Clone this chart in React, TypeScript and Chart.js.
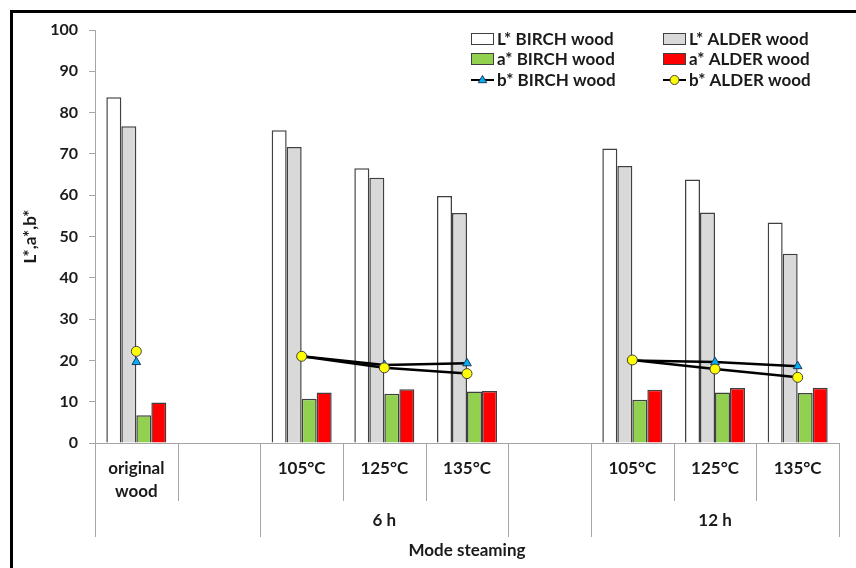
import React, { useEffect, useRef } from "react";
import { Chart, registerables } from "chart.js";

Chart.register(...registerables);

// ---- data ----
const categories: (string | string[])[] = [
  ["original", "wood"], "", "105°C", "125°C", "135°C", "", "105°C", "125°C", "135°C",
];
const groupLabels = ["6 h", "12 h"];
const groupStart = [2, 6];
const groupEnd = [4, 8];
const xTitle = "Mode steaming";
const yTitle = "L*,a*,b*";

const lBirch = [83.7, null, 75.7, 66.5, 59.8, null, 71.3, 63.8, 53.4];
const lAlder = [76.7, null, 71.7, 64.2, 55.7, null, 67.1, 55.8, 45.8];
const aBirch = [6.7, null, 10.7, 11.9, 12.5, null, 10.5, 12.2, 12.1];
const aAlder = [9.8, null, 12.2, 13.0, 12.6, null, 12.9, 13.3, 13.4];
const bBirch = [19.6, null, 21.0, 18.9, 19.3, null, 20.0, 19.6, 18.6];
const bAlder = [22.2, null, 21.0, 18.2, 16.8, null, 20.1, 17.9, 15.9];

const yMin = 0;
const yMax = 100;
const yStep = 10;

const FONT = "Lato";
const TEXT = "#1a1a1a";
const AXIS = "#a6a6a6";
const EDGE = "#404040";

const legendItems = [
  { text: "L* BIRCH wood", kind: "bar", fill: "#ffffff" },
  { text: "L* ALDER wood", kind: "bar", fill: "#d9d9d9" },
  { text: "a* BIRCH wood", kind: "bar", fill: "#92d050" },
  { text: "a* ALDER wood", kind: "bar", fill: "#ff0000" },
  { text: "b* BIRCH wood", kind: "tri", fill: "#00b0f0" },
  { text: "b* ALDER wood", kind: "circ", fill: "#ffff00" },
];

function drawTri(ctx: CanvasRenderingContext2D, x: number, y: number, r: number, fill: string) {
  ctx.beginPath();
  ctx.moveTo(x, y - r);
  ctx.lineTo(x + r * 0.95, y + r * 0.6);
  ctx.lineTo(x - r * 0.95, y + r * 0.6);
  ctx.closePath();
  ctx.fillStyle = fill;
  ctx.fill();
  ctx.strokeStyle = "#1f3864";
  ctx.lineWidth = 1;
  ctx.stroke();
}

function drawCirc(ctx: CanvasRenderingContext2D, x: number, y: number, r: number, fill: string) {
  ctx.beginPath();
  ctx.arc(x, y, r, 0, Math.PI * 2);
  ctx.fillStyle = fill;
  ctx.fill();
  ctx.strokeStyle = EDGE;
  ctx.lineWidth = 1;
  ctx.stroke();
}

const groupAxisPlugin = {
  id: "groupAxis",
  afterDraw(chart: any) {
    const { ctx, chartArea, scales } = chart;
    const x = scales.x;
    const n = categories.length;
    const half = (x.getPixelForValue(1) - x.getPixelForValue(0)) / 2;
    const boundary = (i: number) => x.getPixelForValue(i) - half;
    const longSet = new Set<number>([0, n]);
    groupStart.forEach((s) => longSet.add(s));
    groupEnd.forEach((e) => longSet.add(e + 1));
    const base = chartArea.bottom;
    ctx.save();
    ctx.strokeStyle = AXIS;
    ctx.lineWidth = 1;
    for (let i = 0; i <= n; i++) {
      const px = Math.round(boundary(i)) + 0.5;
      const len = longSet.has(i) ? 94 : 58;
      ctx.beginPath();
      ctx.moveTo(px, base);
      ctx.lineTo(px, base + len);
      ctx.stroke();
    }
    ctx.fillStyle = TEXT;
    ctx.font = `bold 17px ${FONT}`;
    ctx.textAlign = "center";
    ctx.textBaseline = "middle";
    groupLabels.forEach((g, k) => {
      const cx = (boundary(groupStart[k]) + boundary(groupEnd[k] + 1)) / 2;
      ctx.fillText(g, cx, base + 78);
    });

    // legend
    const cols = [chartArea.right - 368, chartArea.right - 176];
    const rows = [chartArea.top + 9, chartArea.top + 29, chartArea.top + 50];
    legendItems.forEach((it, idx) => {
      const lx = cols[idx % 2];
      const ly = rows[Math.floor(idx / 2)];
      if (it.kind === "bar") {
        ctx.fillStyle = it.fill;
        ctx.fillRect(lx, ly - 6, 23, 12);
        ctx.strokeStyle = EDGE;
        ctx.lineWidth = 1;
        ctx.strokeRect(lx + 0.5, ly - 5.5, 22, 11);
      } else {
        ctx.strokeStyle = "#000";
        ctx.lineWidth = 2;
        ctx.beginPath();
        ctx.moveTo(lx, ly);
        ctx.lineTo(lx + 23, ly);
        ctx.stroke();
        if (it.kind === "tri") drawTri(ctx, lx + 11.5, ly, 4.5, it.fill);
        else drawCirc(ctx, lx + 11.5, ly, 4.5, it.fill);
      }
      ctx.fillStyle = TEXT;
      ctx.font = `bold 17px ${FONT}`;
      ctx.textAlign = "left";
      ctx.textBaseline = "middle";
      ctx.fillText(it.text, lx + 26, ly + 1);
    });
    ctx.restore();
  },
};

export default function App() {
  const ref = useRef<HTMLCanvasElement | null>(null);
  useEffect(() => {
    if (!ref.current) return;
    const font = { family: FONT, weight: "bold" as const, size: 17 };
    const chart = new Chart(ref.current, {
      type: "bar",
      data: {
        labels: categories as any,
        datasets: [
          {
            type: "line",
            label: "b* ALDER wood",
            data: bAlder as any,
            borderColor: "#000000",
            borderWidth: 2.5,
            pointStyle: "circle",
            pointRadius: 5,
            pointBackgroundColor: "#ffff00",
            pointBorderColor: EDGE,
            pointBorderWidth: 1,
            spanGaps: false,
            order: 0,
          } as any,
          {
            type: "line",
            label: "b* BIRCH wood",
            data: bBirch as any,
            borderColor: "#000000",
            borderWidth: 2.5,
            pointStyle: "triangle",
            pointRadius: 5,
            pointBackgroundColor: "#00b0f0",
            pointBorderColor: "#1f3864",
            pointBorderWidth: 1,
            spanGaps: false,
            order: 1,
          } as any,
          {
            label: "L* BIRCH wood",
            data: lBirch as any,
            backgroundColor: "#ffffff",
            borderColor: EDGE,
            borderWidth: 1.5,
            order: 2,
          },
          {
            label: "L* ALDER wood",
            data: lAlder as any,
            backgroundColor: "#d9d9d9",
            borderColor: EDGE,
            borderWidth: 1.5,
            order: 2,
          },
          {
            label: "a* BIRCH wood",
            data: aBirch as any,
            backgroundColor: "#92d050",
            borderColor: EDGE,
            borderWidth: 1.5,
            order: 2,
          },
          {
            label: "a* ALDER wood",
            data: aAlder as any,
            backgroundColor: "#ff0000",
            borderColor: EDGE,
            borderWidth: 1.5,
            order: 2,
          },
        ],
      },
      options: {
        responsive: false,
        animation: false,
        devicePixelRatio: 1,
        layout: { padding: { top: 30, right: 17, left: 0, bottom: 0 } },
        datasets: { bar: { categoryPercentage: 0.726, barPercentage: 1 } },
        plugins: { legend: { display: false }, tooltip: { enabled: false } },
        scales: {
          x: {
            grid: { display: false },
            border: { display: true, color: AXIS, width: 1 },
            ticks: {
              color: TEXT,
              font: { ...font, lineHeight: 1.35 },
              padding: 6,
              maxRotation: 0,
              autoSkip: false,
            },
            title: {
              display: true,
              text: xTitle,
              color: TEXT,
              font,
              padding: { bottom: 7, top: 0 },
            },
            afterFit(s: any) {
              s.height = 125;
            },
          },
          y: {
            min: yMin,
            max: yMax,
            ticks: { stepSize: yStep, color: TEXT, font: { ...font, size: 16 }, padding: 11 },
            grid: { drawOnChartArea: false, tickLength: 6, color: AXIS },
            border: { color: AXIS, width: 1 },
            title: {
              display: true,
              text: yTitle,
              color: TEXT,
              font,
              padding: { top: 20, bottom: 0 },
            },
            afterFit(s: any) {
              s.width = 95;
            },
          },
        },
      },
      plugins: [groupAxisPlugin],
    });
    return () => chart.destroy();
  }, []);

  return (
    <div>
      <div
        style={{
          position: "absolute",
          left: 10,
          top: 10,
          width: 846,
          height: 558,
          borderLeft: "3px solid #000",
          borderTop: "3px solid #000",
          boxSizing: "border-box",
        }}
      />
      <canvas
        ref={ref}
        width={856}
        height={568}
        style={{ position: "absolute", left: 0, top: 0, width: 856, height: 568 }}
      />
    </div>
  );
}
